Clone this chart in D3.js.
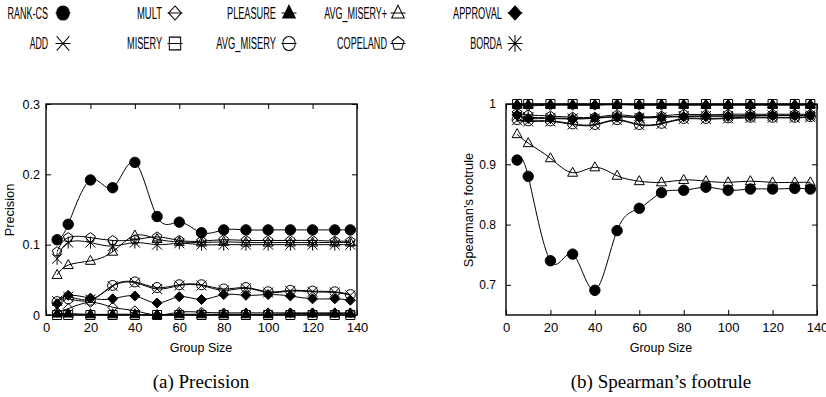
<!DOCTYPE html>
<html><head><meta charset="utf-8">
<script src="https://cdn.jsdelivr.net/npm/d3@7/dist/d3.min.js"></script>
<style>body{margin:0;background:#fff}svg{display:block}</style>
</head><body>
<svg id="c" width="826" height="397"></svg>
<script>
// ---------- DATA ----------
const groupSizes = [5,10,20,30,40,50,60,70,80,90,100,110,120,130,137];
const methods = ["RANK-CS","ADD","MULT","MISERY","PLEASURE","AVG_MISERY","AVG_MISERY+","COPELAND","APPROVAL","BORDA"];
const xTicks = [0,20,40,60,80,100,120,140];
const precisionTicks = [0,0.1,0.2,0.3];
const footruleTicks = [0.7,0.8,0.9,1];

// Precision
const precRankCS    = [0.107,0.129,0.192,0.181,0.217,0.140,0.132,0.117,0.121,0.121,0.121,0.121,0.121,0.121,0.121];
const precAdd       = [0.020,0.026,0.022,0.041,0.046,0.037,0.042,0.042,0.035,0.038,0.032,0.034,0.033,0.032,0.028];
const precMult      = [0.004,0.009,0.018,0.011,0.006,0.000,0.004,0.004,0.003,0.003,0.003,0.003,0.003,0.003,0.003];
const precMisery    = [0,0,0,0,0,0,0,0,0,0,0,0,0,0,0];
const precPleasure  = [0.002,0.002,0.001,0.001,0.001,0.000,0.001,0.001,0.001,0.001,0.001,0.002,0.002,0.002,0.002];
const precAvgMisery = [0.019,0.023,0.021,0.042,0.047,0.039,0.043,0.043,0.037,0.039,0.033,0.035,0.034,0.033,0.029];
const precAvgMiseryP= [0.057,0.071,0.077,0.090,0.113,0.108,0.104,0.103,0.104,0.103,0.103,0.103,0.103,0.103,0.103];
const precCopeland  = [0.090,0.110,0.110,0.106,0.107,0.111,0.106,0.105,0.107,0.106,0.106,0.106,0.106,0.105,0.105];
const precApproval  = [0.016,0.028,0.024,0.023,0.027,0.017,0.026,0.022,0.029,0.028,0.029,0.027,0.023,0.023,0.021];
const precBorda     = [0.080,0.103,0.103,0.098,0.103,0.100,0.102,0.100,0.100,0.100,0.100,0.100,0.100,0.100,0.100];

// Spearman's footrule
const footRankCS    = [0.907,0.880,0.740,0.751,0.691,0.790,0.827,0.853,0.857,0.862,0.857,0.859,0.859,0.860,0.859];
const footAdd       = [0.973,0.971,0.971,0.966,0.965,0.973,0.965,0.967,0.975,0.975,0.976,0.977,0.977,0.977,0.978];
const footMult      = [0.998,0.997,0.998,0.998,0.998,0.999,0.998,0.998,0.998,0.998,0.998,0.998,0.998,0.998,0.998];
const footMisery    = [1,1,1,1,1,1,1,1,1,1,1,1,1,1,1];
const footPleasure  = [0.999,0.999,0.999,0.999,0.999,0.999,0.999,0.999,0.999,0.999,0.999,0.999,0.999,0.999,0.999];
const footAvgMisery = [0.974,0.972,0.972,0.967,0.966,0.974,0.966,0.968,0.976,0.976,0.977,0.978,0.978,0.978,0.979];
const footAvgMiseryP= [0.950,0.935,0.910,0.886,0.895,0.881,0.872,0.870,0.874,0.872,0.870,0.872,0.870,0.870,0.870];
const footCopeland  = [0.985,0.982,0.980,0.978,0.978,0.982,0.979,0.980,0.983,0.982,0.983,0.983,0.983,0.983,0.983];
const footApproval  = [0.982,0.976,0.976,0.975,0.977,0.979,0.978,0.978,0.979,0.980,0.980,0.980,0.981,0.981,0.981];
const footBorda     = [0.980,0.978,0.977,0.976,0.976,0.979,0.977,0.978,0.980,0.980,0.980,0.981,0.981,0.981,0.981];

const precisionSeries = [precRankCS,precAdd,precMult,precMisery,precPleasure,precAvgMisery,precAvgMiseryP,precCopeland,precApproval,precBorda];
const footruleSeries  = [footRankCS,footAdd,footMult,footMisery,footPleasure,footAvgMisery,footAvgMiseryP,footCopeland,footApproval,footBorda];

// ---------- STYLE ----------
const markerShape = ["circle","x","diamond","square","triangle","circle","triangle","pentagon","diamond","asterisk"];
const markerFilled = [true,false,false,false,true,false,false,false,true,false];
const FONT = "'Liberation Sans', Arial, Helvetica, sans-serif";

function symPath(shape, r){
  switch(shape){
    case "circle": return `M${r},0A${r},${r} 0 1,1 ${-r},0A${r},${r} 0 1,1 ${r},0Z`;
    case "diamond": return `M0,${-r}L${r},0L0,${r}L${-r},0Z`;
    case "square": return `M${-r*0.9},${-r*0.9}H${r*0.9}V${r*0.9}H${-r*0.9}Z`;
    case "triangle": return `M0,${-r*1.1}L${r},${r*0.7}L${-r},${r*0.7}Z`;
    case "x": return `M${-r},${-r}L${r},${r}M${r},${-r}L${-r},${r}`;
    case "asterisk": return `M${-r},${-r}L${r},${r}M${r},${-r}L${-r},${r}M0,${-r*1.2}L0,${r*1.2}`;
    case "pentagon": {
      let p = "";
      for(let k=0;k<5;k++){const a=-Math.PI/2+k*2*Math.PI/5; p+=(k?"L":"M")+(r*Math.cos(a)).toFixed(2)+","+(r*Math.sin(a)).toFixed(2);}
      return p+"Z";
    }
  }
}

const svg = d3.select("#c");

function panel(cfg){
  const {x0,x1,y0,y1,yDomain,yTicks,yFmt,series,yLabel,yLabelX,yPad,yFont,xLabelX,caption} = cfg;
  const x = d3.scaleLinear().domain([0,140]).range([x0,x1]);
  const y = d3.scaleLinear().domain(yDomain).range([y1,y0]);
  const g = svg.append("g");

  const ax = g.append("g").attr("transform",`translate(0,${y1})`)
    .call(d3.axisBottom(x).tickValues(xTicks).tickSize(-5).tickPadding(8).tickFormat(d3.format("d")));
  ax.selectAll("text").attr("font-size",13).attr("font-family",FONT).attr("fill","#000");
  g.append("g").attr("transform",`translate(0,${y0})`)
    .call(d3.axisTop(x).tickValues(xTicks).tickSize(-5).tickFormat(""));
  const ay = g.append("g").attr("transform",`translate(${x0},0)`)
    .call(d3.axisLeft(y).tickValues(yTicks).tickSize(-5).tickPadding(yPad).tickFormat(yFmt));
  ay.selectAll("text").attr("font-size",yFont).attr("font-family",FONT).attr("fill","#000");
  g.append("g").attr("transform",`translate(${x1},0)`)
    .call(d3.axisRight(y).tickValues(yTicks).tickSize(-5).tickFormat(""));
  g.selectAll(".domain").remove();
  g.selectAll(".tick line").attr("stroke","#000");
  g.append("rect").attr("x",x0).attr("y",y0).attr("width",x1-x0).attr("height",y1-y0)
    .attr("fill","none").attr("stroke","#000").attr("stroke-width",1.4);

  const line = d3.line().x((d,i)=>x(groupSizes[i])).y(d=>y(d)).curve(d3.curveNatural);
  series.forEach((s,k)=>{
    g.append("path").attr("d",line(s)).attr("fill","none").attr("stroke","#000").attr("stroke-width",1);
  });
  series.forEach((s,k)=>{
    g.append("g").selectAll("path").data(s).join("path")
      .attr("transform",(d,i)=>`translate(${x(groupSizes[i])},${y(d)})`)
      .attr("d",symPath(markerShape[k], markerShape[k]==="circle"&&markerFilled[k]?5.2:5))
      .attr("fill",markerFilled[k]?"#000":"none")
      .attr("stroke","#000").attr("stroke-width",1);
  });

  g.append("text").attr("x",xLabelX).attr("y",352).attr("text-anchor","middle")
    .attr("font-family",FONT).attr("font-size",12.5).text("Group Size");
  g.append("text").attr("transform",`translate(${yLabelX},210) rotate(-90)`).attr("text-anchor","middle")
    .attr("font-family",FONT).attr("font-size",12.8).text(yLabel);
  g.append("text").attr("x",xLabelX).attr("y",388).attr("text-anchor","middle")
    .attr("font-family","'Liberation Serif','DejaVu Serif',serif").attr("font-size",19).text(caption);
}

panel({x0:46,x1:357,y0:104,y1:315,yDomain:[0,0.3],yTicks:precisionTicks,
  yFmt:d=>d===0?"0":d3.format(".1f")(d),series:precisionSeries,yLabel:"Precision",yLabelX:13.5,yPad:6,yFont:12.5,
  xLabelX:201,caption:"(a) Precision"});
panel({x0:506,x1:817,y0:104,y1:315,yDomain:[0.65,1.0],yTicks:footruleTicks,
  yFmt:d=>d===1?"1":d3.format(".1f")(d),series:footruleSeries,yLabel:"Spearman\u2019s footrule",yLabelX:473,yPad:10,yFont:12,
  xLabelX:661,caption:"(b) Spearman\u2019s footrule"});

// ---------- LEGEND ----------
const legendTextEnd = [48,162,276,387,502];
const legendSymX = [63,175,289,398,515];
const legendRowY = [13,43.5];
const legendTextLen = [40.5,18.3,25,35,49,59.7,62.7,50,49,31.7];
const lg = svg.append("g");
methods.forEach((m,k)=>{
  const col = k>>1, row = k%2;
  const tx = legendTextEnd[col], sx = legendSymX[col], yy = legendRowY[row];
  lg.append("text").attr("x",tx).attr("y",yy+5.5).attr("text-anchor","end")
    .attr("font-family",FONT).attr("font-size",16)
    .attr("textLength",legendTextLen[k]).attr("lengthAdjust","spacingAndGlyphs").text(m);
  lg.append("line").attr("x1",sx-7.5).attr("x2",sx+7.5).attr("y1",yy).attr("y2",yy).attr("stroke","#000").attr("stroke-width",1);
  lg.append("path").attr("transform",`translate(${sx},${yy}) scale(1,1.12)`)
    .attr("d",symPath(markerShape[k],6.3)).attr("fill",markerFilled[k]?"#000":"none")
    .attr("stroke","#000").attr("stroke-width",1);
});
</script>
</body></html>
